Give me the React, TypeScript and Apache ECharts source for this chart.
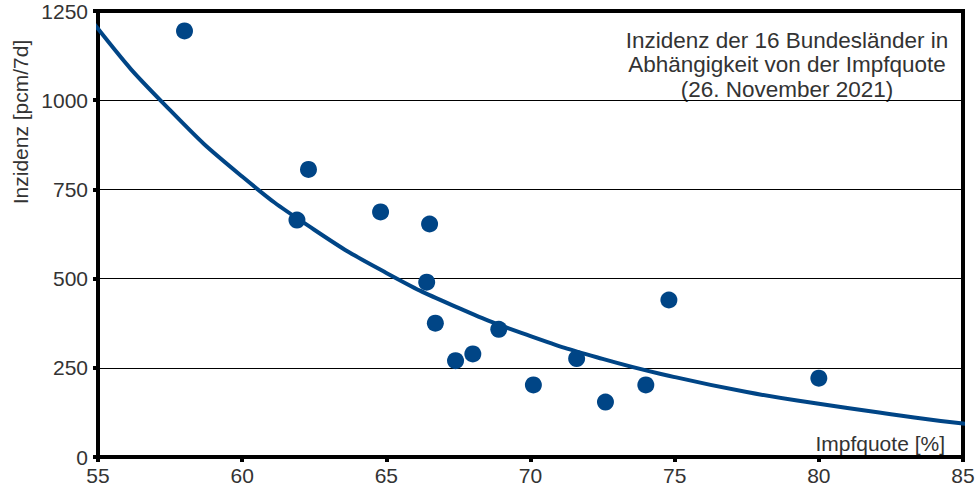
import React, { useEffect, useRef } from 'react';
import * as echarts from 'echarts';

// Impfquote [%] und Inzidenz der 16 Bundesländer
const quote = [58.0, 61.9, 62.3, 64.8, 66.5, 66.4, 66.7, 67.4, 68.0, 68.9, 70.1, 71.6, 72.6, 74.0, 74.8, 80.0];
const inzidenz = [1194, 664, 806, 687, 653, 490, 375, 270, 289, 358, 202, 276, 154, 202, 440, 221];

const fitX = [52.5, 55, 57.5, 60, 62.5, 65, 67.5, 70, 72.5, 75, 77.5, 80, 82.5, 85, 87.5];
const fitY = [1482, 1200, 972, 786, 637, 516, 418, 339, 275, 224, 182, 149, 120, 94, 76];

const yTicks = [0, 250, 500, 750, 1000, 1250];
const titleLines = ['Inzidenz der 16 Bundesländer in', 'Abhängigkeit von der Impfquote', '(26. November 2021)'];

const BLUE = '#004586';
const FONT = 'Liberation Sans, Arial, sans-serif';
const TEXT = '#333333';

const App: React.FC = () => {
  const chartRef = useRef<HTMLDivElement>(null);

  useEffect(() => {
    if (!chartRef.current) return;
    const chart = echarts.init(chartRef.current, undefined, { renderer: 'svg' });

    const option: echarts.EChartsOption = {
      animation: false,
      textStyle: { fontFamily: FONT },
      grid: {
        left: 98,
        right: 17,
        top: 11,
        bottom: 36,
        show: true,
        borderColor: '#000',
        borderWidth: 4,
      },
      xAxis: {
        type: 'value',
        min: 55,
        max: 85,
        interval: 5,
        axisLine: { show: true, lineStyle: { color: '#000', width: 4 } },
        axisTick: { show: true, length: 5, lineStyle: { color: '#000', width: 4 } },
        axisLabel: { color: TEXT, fontSize: 21, margin: 8, fontFamily: FONT },
        splitLine: { show: false },
      },
      yAxis: {
        type: 'value',
        min: yTicks[0],
        max: yTicks[yTicks.length - 1],
        interval: 250,
        axisLine: { show: true, lineStyle: { color: '#000', width: 4 } },
        axisTick: { show: true, length: 5, lineStyle: { color: '#000', width: 4 } },
        axisLabel: {
          color: TEXT,
          fontSize: 21,
          margin: 10,
          fontFamily: FONT,
          formatter: (v: number) => String(v),
        },
        splitLine: { show: true, lineStyle: { color: '#000', width: 1 } },
      },
      graphic: [
        {
          type: 'text',
          x: 20,
          y: 122,
          rotation: Math.PI / 2,
          style: {
            text: 'Inzidenz [pcm/7d]',
            fill: TEXT,
            font: `21px ${FONT}`,
            align: 'center',
            verticalAlign: 'middle',
          },
        },
        {
          type: 'text',
          x: 945,
          y: 443,
          style: {
            text: 'Impfquote [%]',
            fill: TEXT,
            font: `21px ${FONT}`,
            align: 'right',
            verticalAlign: 'middle',
          },
        },
        ...titleLines.map((line, i) => ({
          type: 'text' as const,
          x: 787,
          y: 40 + i * 24.5,
          style: {
            text: line,
            fill: TEXT,
            font: `22.5px ${FONT}`,
            align: 'center' as const,
            verticalAlign: 'middle' as const,
          },
        })),
      ],
      series: [
        {
          type: 'line',
          data: fitX.map((x, i) => [x, fitY[i]]),
          smooth: true,
          clip: true,
          showSymbol: false,
          symbol: 'none',
          lineStyle: { color: BLUE, width: 4 },
          z: 2,
        },
        {
          type: 'scatter',
          data: quote.map((x, i) => [x, inzidenz[i]]),
          symbolSize: 17,
          itemStyle: { color: BLUE, opacity: 1 },
          z: 3,
        },
      ],
    };

    chart.setOption(option);
    return () => chart.dispose();
  }, []);

  return (
    <div
      ref={chartRef}
      style={{ position: 'fixed', left: 0, top: 0, width: 980, height: 493, background: '#fff' }}
    />
  );
};

export default App;
